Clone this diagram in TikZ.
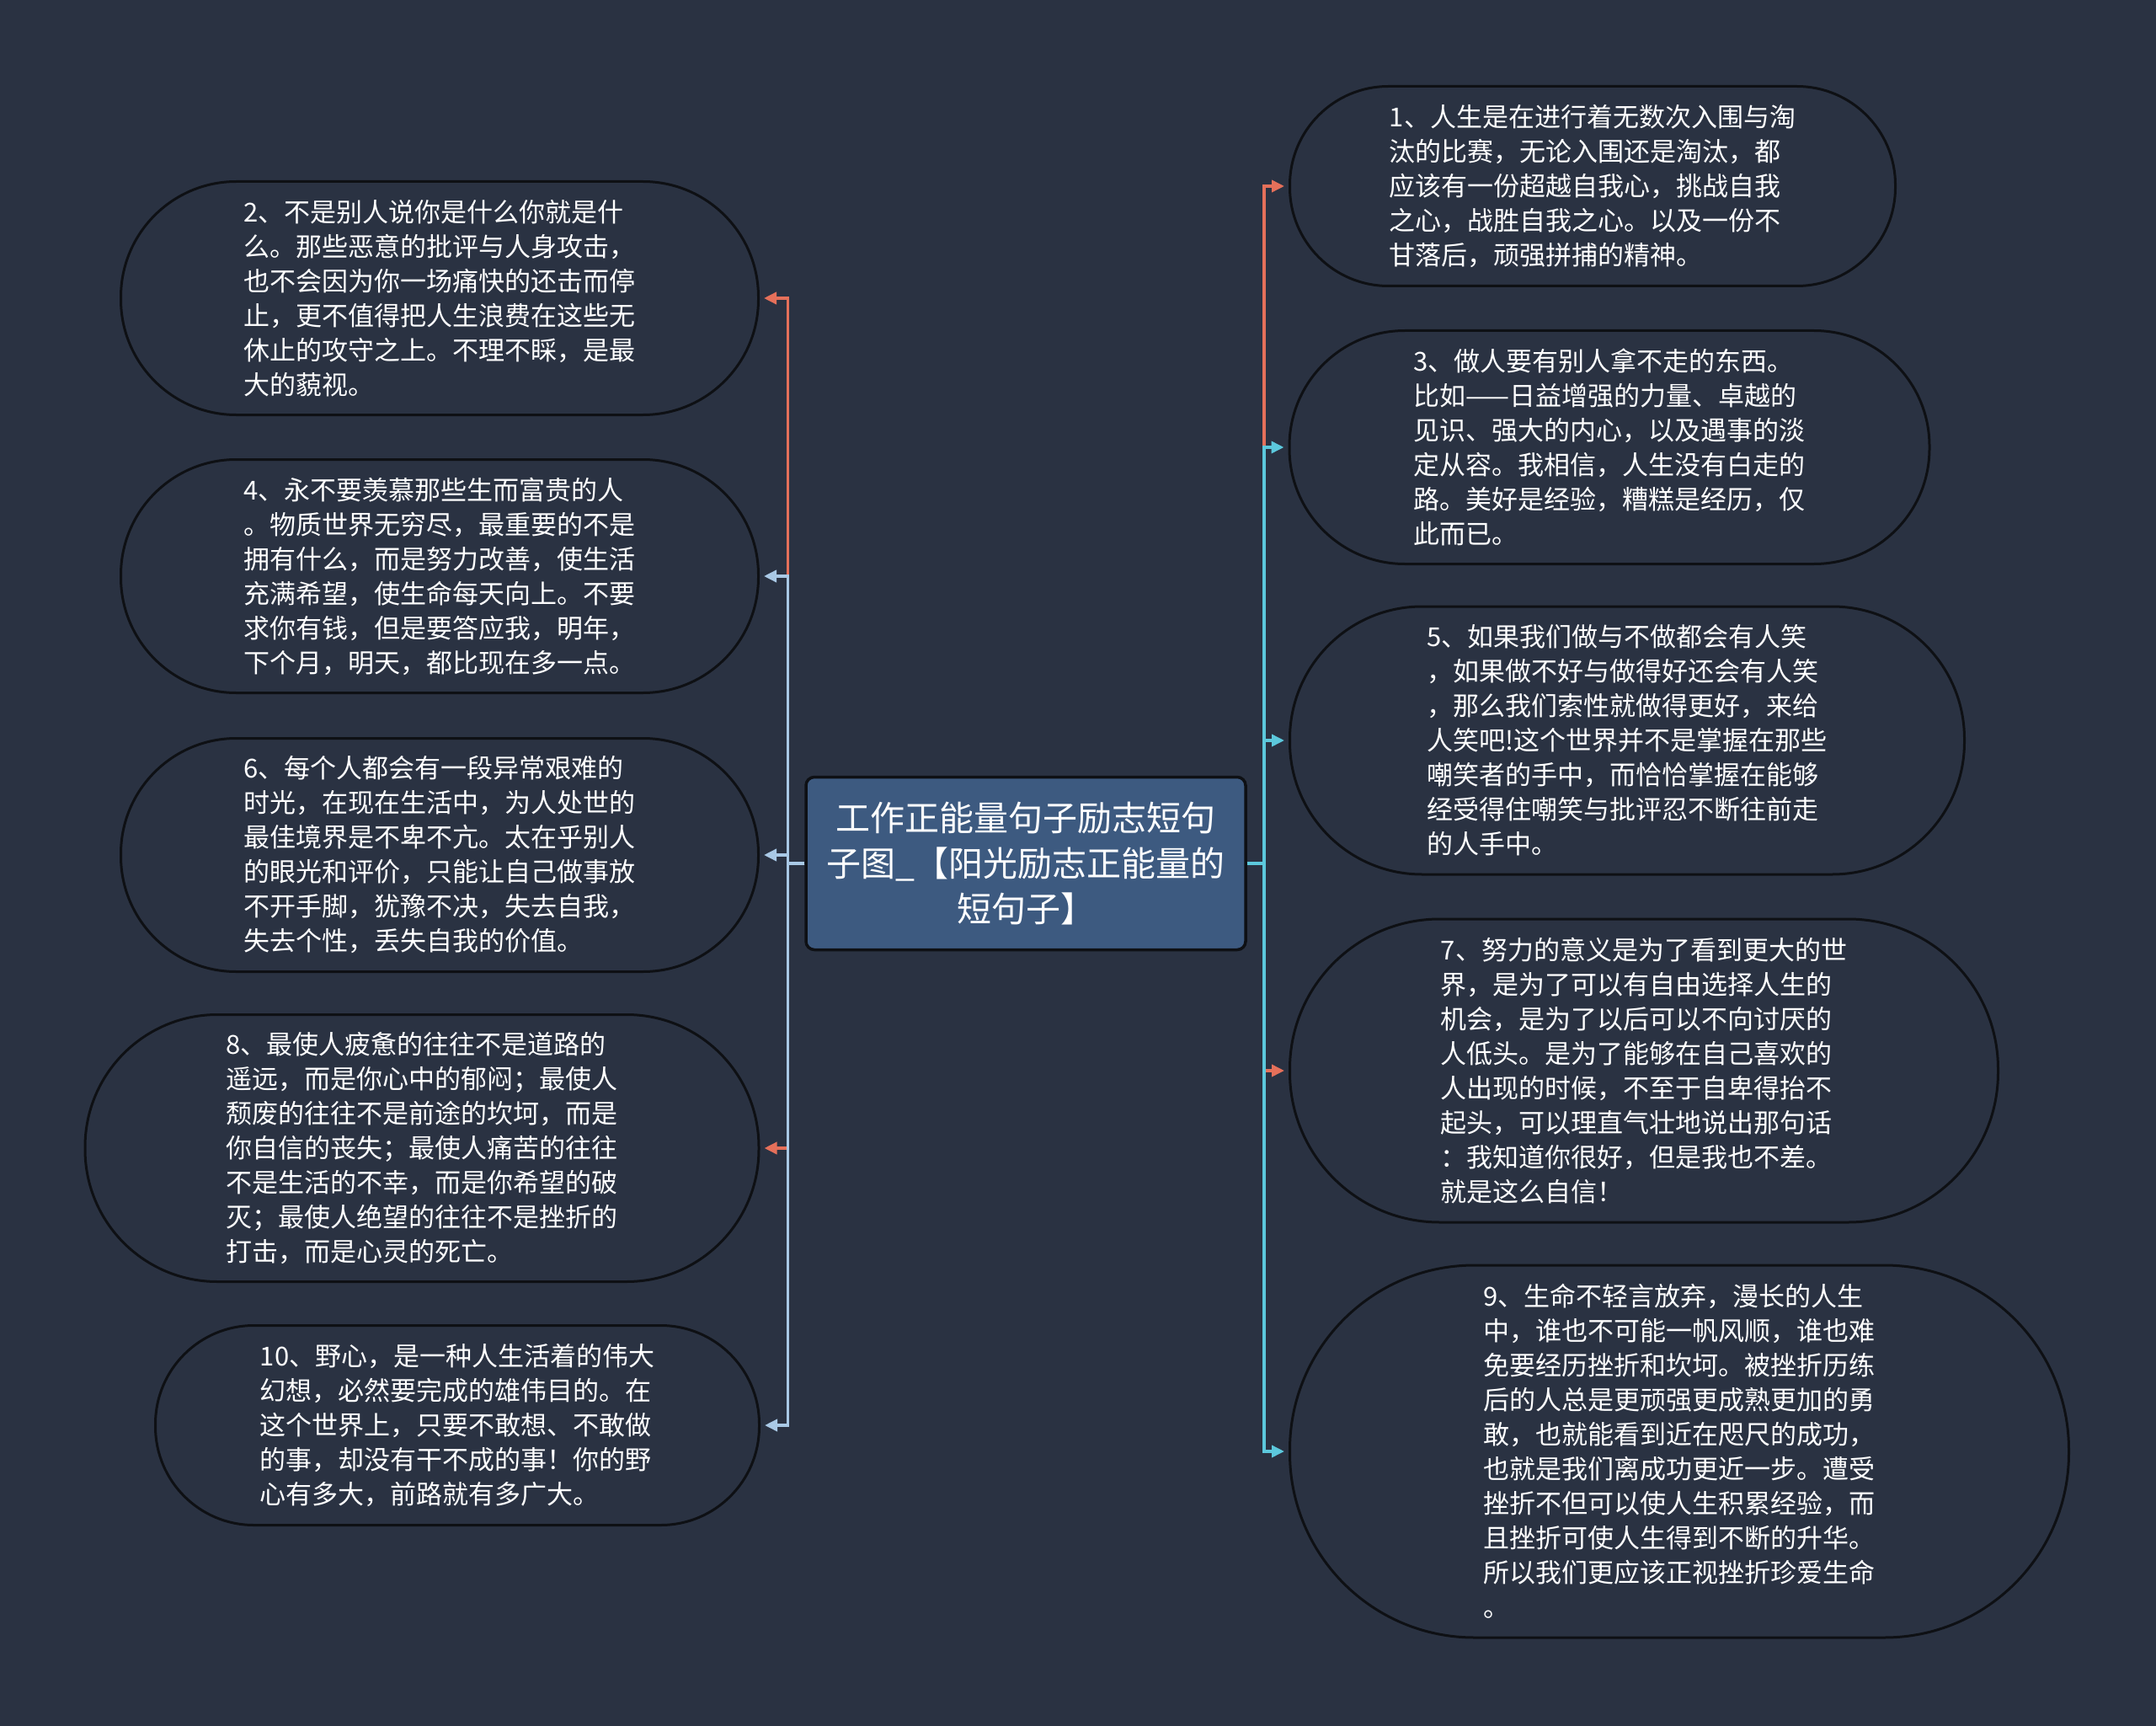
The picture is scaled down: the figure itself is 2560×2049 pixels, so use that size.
\documentclass[tikz,border=0pt]{standalone}
\usepackage{fontspec}
\setmainfont{Noto Sans CJK SC}
\usetikzlibrary{arrows.meta}
\definecolor{bg}{HTML}{2A3242}
\definecolor{ctrfill}{HTML}{3D5A80}
\definecolor{edgered}{HTML}{E5705A}
\definecolor{edgeblueL}{HTML}{A9C9E6}
\definecolor{edgeblueR}{HTML}{5CC8DC}
\definecolor{rimcol}{HTML}{0E1014}
\tikzset{
  leaf/.style n args={3}{draw=rimcol, line width=3pt, fill=bg, text=white,
    minimum width=#1pt, minimum height=#2pt, rounded corners=#3pt,
    align=left, inner sep=0pt,
    font=\fontsize{31pt}{41pt}\selectfont},
  ctr/.style={draw=rimcol, line width=3.5pt, fill=ctrfill, text=white,
    minimum width=522pt, minimum height=205pt, rounded corners=10pt,
    align=center, inner sep=0pt,
    font=\fontsize{41pt}{54pt}\selectfont},
  conn/.style={line width=3.5pt, shorten >=5pt,
    -{Triangle[length=15pt,width=14pt]}},
}
\begin{document}
\begin{tikzpicture}[x=1pt,y=-1pt]
\fill[bg] (0,0) rectangle (2560,2049);
\useasboundingbox (0,0) rectangle (2560,2049);

\node[ctr] (c) at (1218,1025) {工作正能量句子励志短句\\子图\_【阳光励志正能量的\\短句子】};

% left nodes
\node[leaf={757}{277}{137}] (n2) at (522,354) {2、不是别人说你是什么你就是什\\么。那些恶意的批评与人身攻击，\\也不会因为你一场痛快的还击而停\\止，更不值得把人生浪费在这些无\\休止的攻守之上。不理不睬，是最\\大的藐视。};
\node[leaf={757}{277}{137}] (n4) at (522,684) {4、永不要羡慕那些生而富贵的人\\。物质世界无穷尽，最重要的不是\\拥有什么，而是努力改善，使生活\\充满希望，使生命每天向上。不要\\求你有钱，但是要答应我，明年，\\下个月，明天，都比现在多一点。};
\node[leaf={757}{277}{137}] (n6) at (522,1015) {6、每个人都会有一段异常艰难的\\时光，在现在生活中，为人处世的\\最佳境界是不卑不亢。太在乎别人\\的眼光和评价，只能让自己做事放\\不开手脚，犹豫不决，失去自我，\\失去个性，丢失自我的价值。};
\node[leaf={800}{317}{157}] (n8) at (501,1363) {8、最使人疲惫的往往不是道路的\\遥远，而是你心中的郁闷；最使人\\颓废的往往不是前途的坎坷，而是\\你自信的丧失；最使人痛苦的往往\\不是生活的不幸，而是你希望的破\\灭；最使人绝望的往往不是挫折的\\打击，而是心灵的死亡。};
\node[leaf={717}{237}{117}] (n10) at (543,1692) {10、野心，是一种人生活着的伟大\\幻想，必然要完成的雄伟目的。在\\这个世界上，只要不敢想、不敢做\\的事，却没有干不成的事！你的野\\心有多大，前路就有多广大。};

% right nodes
\node[leaf={719}{237}{117}] (n1) at (1891,221) {1、人生是在进行着无数次入围与淘\\汰的比赛，无论入围还是淘汰，都\\应该有一份超越自我心，挑战自我\\之心，战胜自我之心。以及一份不\\甘落后，顽强拼捕的精神。};
\node[leaf={760}{277}{137}] (n3) at (1911,531) {3、做人要有别人拿不走的东西。\\比如——日益增强的力量、卓越的\\见识、强大的内心，以及遇事的淡\\定从容。我相信，人生没有白走的\\路。美好是经验，糟糕是经历，仅\\此而已。};
\node[leaf={801}{318}{157}] (n5) at (1932,879) {5、如果我们做与不做都会有人笑\\，如果做不好与做得好还会有人笑\\，那么我们索性就做得更好，来给\\人笑吧!这个世界并不是掌握在那些\\嘲笑者的手中，而恰恰掌握在能够\\经受得住嘲笑与批评忍不断往前走\\的人手中。};
\node[leaf={841}{360}{178}] (n7) at (1952,1271) {7、努力的意义是为了看到更大的世\\界，是为了可以有自由选择人生的\\机会，是为了以后可以不向讨厌的\\人低头。是为了能够在自己喜欢的\\人出现的时候，不至于自卑得抬不\\起头，可以理直气壮地说出那句话\\：我知道你很好，但是我也不差。\\就是这么自信！};
\node[leaf={925}{442}{219}] (n9) at (1994,1723) {9、生命不轻言放弃，漫长的人生\\中，谁也不可能一帆风顺，谁也难\\免要经历挫折和坎坷。被挫折历练\\后的人总是更顽强更成熟更加的勇\\敢，也就能看到近在咫尺的成功，\\也就是我们离成功更近一步。遭受\\挫折不但可以使人生积累经验，而\\且挫折可使人生得到不断的升华。\\所以我们更应该正视挫折珍爱生命\\。};

% connectors: red first, blue on top
\draw[conn, edgered] (c.west) -- ([xshift=-20pt]c.west) |- (n2.east);
\draw[conn, edgered] (c.west) -- ([xshift=-20pt]c.west) |- (n8.east);
\draw[conn, edgered] (c.east) -- ([xshift=20pt]c.east) |- (n1.west);
\draw[conn, edgered] (c.east) -- ([xshift=20pt]c.east) |- (n7.west);
\draw[conn, edgeblueL] (c.west) -- ([xshift=-20pt]c.west) |- (n4.east);
\draw[conn, edgeblueL] (c.west) -- ([xshift=-20pt]c.west) |- (n6.east);
\draw[conn, edgeblueL] (c.west) -- ([xshift=-20pt]c.west) |- (n10.east);
\draw[conn, edgeblueR] (c.east) -- ([xshift=20pt]c.east) |- (n3.west);
\draw[conn, edgeblueR] (c.east) -- ([xshift=20pt]c.east) |- (n5.west);
\draw[conn, edgeblueR] (c.east) -- ([xshift=20pt]c.east) |- (n9.west);
\end{tikzpicture}
\end{document}
